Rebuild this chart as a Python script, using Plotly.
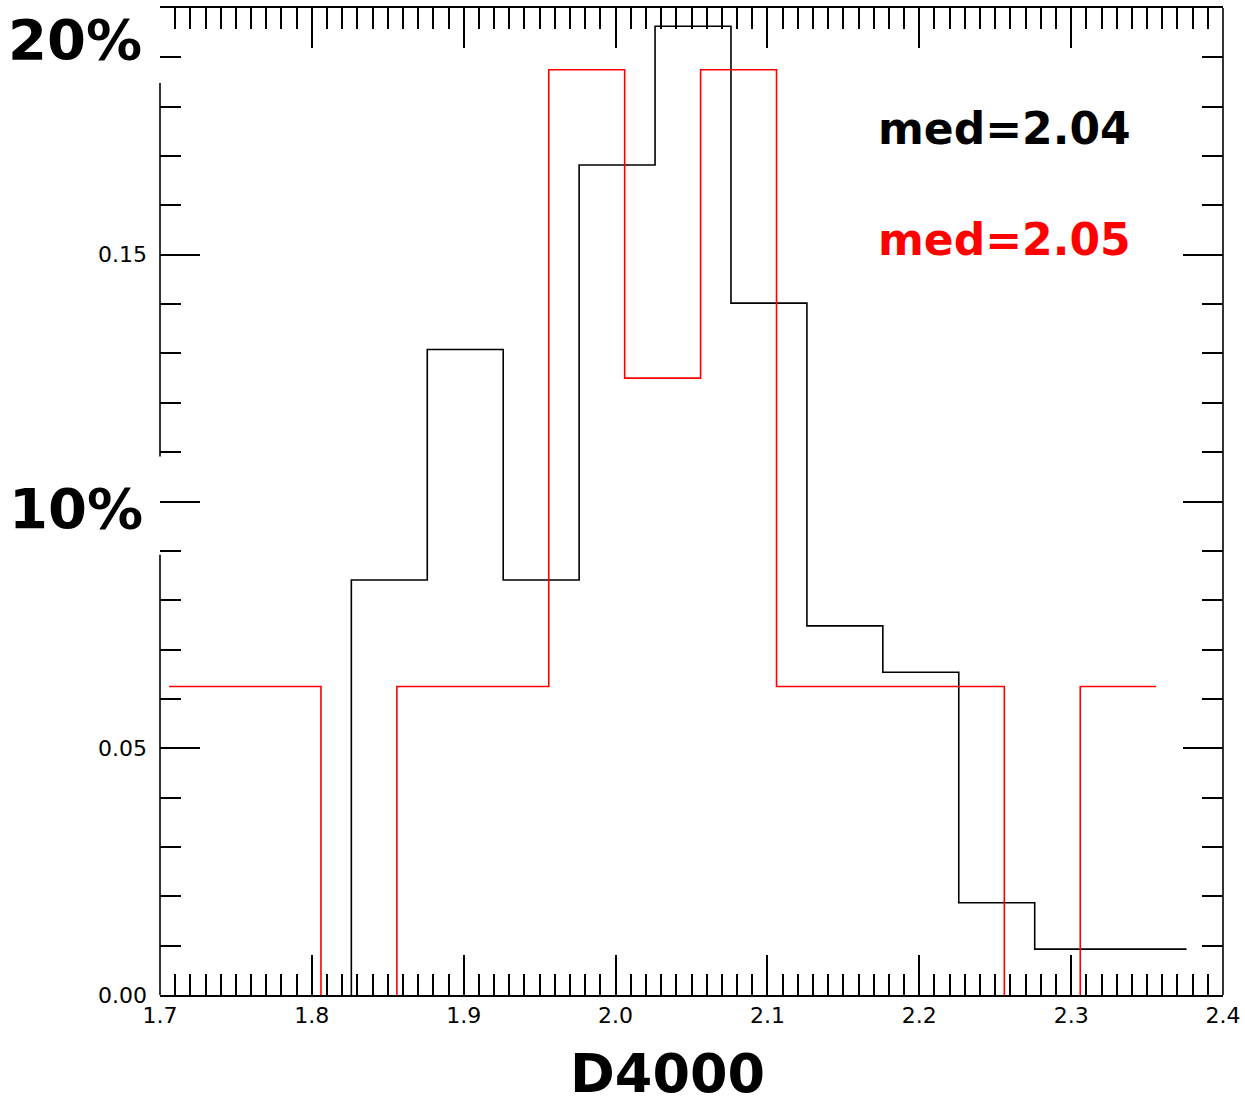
import plotly.graph_objects as go

# ---- data ----
black_edges = [1.826, 1.876, 1.926, 1.976, 2.026, 2.076, 2.126, 2.176, 2.226, 2.276, 2.326, 2.376]
black_vals = [0.0841, 0.1308, 0.0841, 0.1682, 0.1963, 0.1402, 0.0748, 0.0654, 0.0187, 0.0093, 0.0093]

red_edges = [1.706, 1.756, 1.806, 1.856, 1.906, 1.956, 2.006, 2.056, 2.106, 2.156, 2.206, 2.256, 2.306, 2.356]
red_vals = [0.0625, 0.0625, 0.0, 0.0625, 0.0625, 0.1875, 0.125, 0.1875, 0.0625, 0.0625, 0.0625, 0.0, 0.0625]

y_tickvals = [0.0, 0.05, 0.10, 0.15, 0.20]
y_ticktext = ["0.00", "0.05", "", "0.15", ""]
x_tickvals = [1.7, 1.8, 1.9, 2.0, 2.1, 2.2, 2.3, 2.4]
x_ticktext = ["1.7", "1.8", "1.9", "2.0", "2.1", "2.2", "2.3", "2.4"]

med_black = "med=2.04"
med_red = "med=2.05"

BIG = "Comic Sans MS, DejaVu Sans"


def step_path(edges, vals, rise_from_zero=False):
    """Histogram outline; horizontal runs at zero are left out (they sit on the axis)."""
    xs, ys = [], []
    if rise_from_zero:
        xs.append(edges[0]); ys.append(0.0)
    for i, v in enumerate(vals):
        if v == 0:
            xs += [edges[i], None, edges[i + 1]]
            ys += [0.0, None, 0.0]
        else:
            xs += [edges[i], edges[i + 1]]
            ys += [v, v]
    return xs, ys


fig = go.Figure()

bx, by = step_path(black_edges, black_vals, rise_from_zero=True)
fig.add_trace(go.Scatter(x=bx, y=by, mode="lines", line=dict(color="black", width=1.6),
                         connectgaps=False, showlegend=False, hoverinfo="skip"))
rx, ry = step_path(red_edges, red_vals)
fig.add_trace(go.Scatter(x=rx, y=ry, mode="lines", line=dict(color="#ff0000", width=1.6),
                         connectgaps=False, showlegend=False, hoverinfo="skip"))

fig.update_xaxes(range=[1.7, 2.4], tickvals=x_tickvals, ticktext=x_ticktext,
                 ticks="inside", ticklen=40, tickwidth=1.5, tickcolor="black",
                 showline=True, linecolor="black", linewidth=1.6, mirror="ticks",
                 showgrid=False, zeroline=False, layer="above traces", automargin=False,
                 minor=dict(dtick=0.01, ticks="inside", ticklen=21, tickwidth=1.5, tickcolor="black", showgrid=False),
                 tickfont=dict(family="DejaVu Sans", size=22, color="black"))
fig.update_yaxes(range=[0, 0.2], tickvals=y_tickvals, ticktext=y_ticktext,
                 ticks="inside", ticklen=40, tickwidth=1.5, tickcolor="black",
                 showline=False, mirror="ticks", automargin=False,
                 showgrid=False, zeroline=False, ticklabelstandoff=12,
                 minor=dict(dtick=0.01, ticks="inside", ticklen=21, tickwidth=1.5, tickcolor="black", showgrid=False),
                 tickfont=dict(family="DejaVu Sans", size=22, color="black"))

# spines: right full, left broken where the big labels sit
spine = dict(color="black", width=1.6)
fig.add_shape(type="line", xref="paper", yref="paper", x0=1, x1=1, y0=0, y1=1, line=spine)
fig.add_shape(type="line", xref="paper", yref="y", x0=0, x1=0, y0=0, y1=0.0892, line=spine)
fig.add_shape(type="line", xref="paper", yref="y", x0=0, x1=0, y0=0.1091, y1=0.1848, line=spine)


def px(x):
    return (x - 160) / 1063


def py(y):
    return (995 - y) / 987


def note(text, x, y, size, color="black"):
    fig.add_annotation(text=text, x=px(x), y=py(y), xref="paper", yref="paper", showarrow=False,
                       xanchor="center", yanchor="middle",
                       font=dict(family=BIG, size=size, color=color, weight="bold"))


note("20%", 75, 40, 56)
note("10%", 76, 508, 56)
note("D4000", 667, 1073, 54)
note(med_black, 1004, 128, 44)
note(med_red, 1004, 240, 44, "#ff0000")

fig.update_layout(width=1245, height=1105, margin=dict(l=160, r=22, t=8, b=110),
                  paper_bgcolor="white", plot_bgcolor="white")

fig.write_html("out.html")
